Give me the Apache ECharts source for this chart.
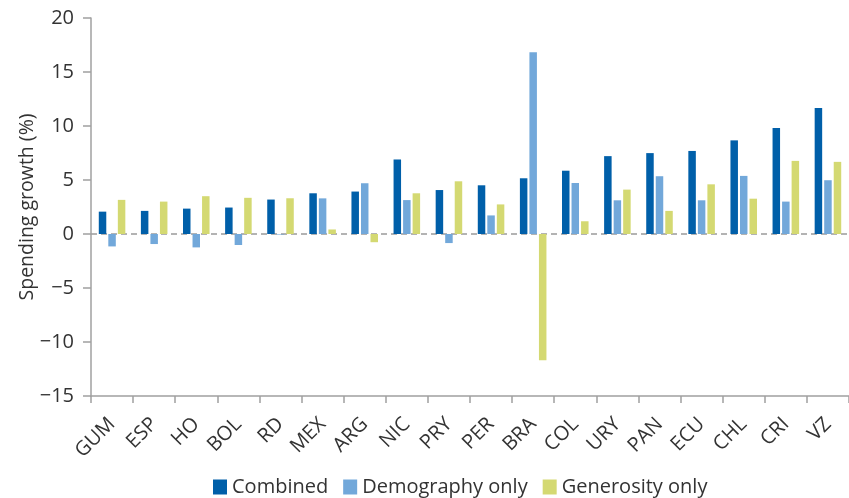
<!DOCTYPE html>
<html>
<head>
<meta charset="utf-8">
<script src="https://cdn.jsdelivr.net/npm/echarts@6/dist/echarts.min.js"></script>
<style>
  html, body { margin: 0; padding: 0; background: #fff; }
  #chart { width: 849px; height: 498px; }
</style>
</head>
<body>
<div id="chart"></div>
<script>
// Countries along the category axis
const countries = ['GUM', 'ESP', 'HO', 'BOL', 'RD', 'MEX', 'ARG', 'NIC', 'PRY', 'PER', 'BRA', 'COL', 'URY', 'PAN', 'ECU', 'CHL', 'CRI', 'VZ'];

// Spending growth (%) by scenario
const combined   = [2.07, 2.14, 2.35, 2.45, 3.19, 3.77, 3.93, 6.90, 4.07, 4.51, 5.16, 5.86, 7.21, 7.49, 7.69, 8.67, 9.81, 11.67];
const demography = [-1.15, -0.93, -1.24, -1.02, -0.05, 3.30, 4.70, 3.14, -0.84, 1.72, 16.82, 4.72, 3.12, 5.35, 3.12, 5.38, 3.00, 4.98];
const generosity = [3.16, 3.00, 3.50, 3.35, 3.31, 0.42, -0.76, 3.77, 4.88, 2.74, -11.70, 1.18, 4.11, 2.14, 4.60, 3.27, 6.77, 6.68];

const seriesNames = ['Combined', 'Demography only', 'Generosity only'];
const seriesColors = ['#005FA9', '#72A8DA', '#D4D972'];

// y-axis ticks: -15 .. 20 step 5; only the zero line is drawn (dashed)
const yTicks = [-15, -10, -5, 0, 5, 10, 15, 20];
const splitColors = yTicks.map(v => v === 0 ? '#9a9a9a' : 'rgba(0,0,0,0)');

const FONT = '"Open Sans", "Noto Sans", sans-serif';
const TEXT = '#333333';
const AXIS = '#a0a0a0';

const chart = echarts.init(document.getElementById('chart'), null, { renderer: 'canvas' });

const values = [combined, demography, generosity];

chart.setOption({
  animation: false,
  textStyle: { fontFamily: FONT },
  grid: { left: 91, right: 0, top: 18, bottom: 102, containLabel: false },
  legend: {
    data: seriesNames,
    top: 472,
    left: 208,
    icon: 'rect',
    itemWidth: 14,
    itemHeight: 15,
    itemGap: 15,
    textStyle: { fontFamily: FONT, fontSize: 20, color: TEXT }
  },
  xAxis: {
    type: 'category',
    data: countries,
    axisLine: { onZero: false, lineStyle: { color: AXIS, width: 1.5 } },
    axisTick: { show: true, length: 7, lineStyle: { color: AXIS, width: 1.5 } },
    axisLabel: { rotate: 45, fontSize: 20, color: TEXT, margin: 25, fontFamily: FONT, interval: 0 }
  },
  yAxis: {
    type: 'value',
    min: -15,
    max: 20,
    interval: 5,
    name: 'Spending growth (%)',
    nameLocation: 'middle',
    nameGap: 54,
    nameMoveOverlap: false,
    nameTextStyle: { fontSize: 19.5, color: TEXT, fontFamily: FONT },
    axisLine: { show: true, lineStyle: { color: AXIS, width: 1.5 } },
    axisTick: { show: true, length: 8, lineStyle: { color: AXIS, width: 1.5 } },
    axisLabel: {
      fontSize: 20, color: TEXT, margin: 17, fontFamily: FONT,
      formatter: v => String(v).replace('-', '\u2212')
    },
    splitLine: { show: true, lineStyle: { color: splitColors, width: 1.5, type: [6, 4] } }
  },
  series: seriesNames.map((name, i) => ({
    name: name,
    type: 'bar',
    data: values[i],
    barWidth: 7.5,
    barGap: '27%',
    itemStyle: { color: seriesColors[i] }
  }))
});
</script>
</body>
</html>
